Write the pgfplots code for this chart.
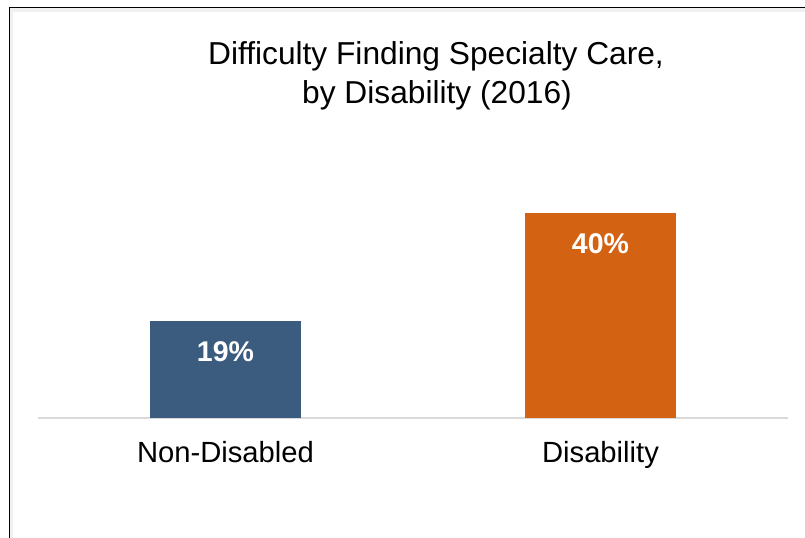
\documentclass[border=0pt]{standalone}
\usepackage{fontspec}
\setmainfont{Liberation Sans}
\usepackage{pgfplots}
\pgfplotsset{compat=1.18}
\definecolor{barblue}{HTML}{3B5B7F}
\definecolor{barorange}{HTML}{D46213}
\definecolor{axisgray}{HTML}{D9D9D9}
\begin{document}
\begin{tikzpicture}
\path[use as bounding box] (0,0) rectangle (805bp,-538bp);
\fill[gray!12] (10bp,-8bp) rectangle (805bp,-12bp);
\fill[gray!12] (10bp,-8bp) rectangle (13bp,-538bp);
\draw[line width=1.8bp, black] (9.5bp,-538bp) -- (9.5bp,-7.5bp) -- (805bp,-7.5bp);
\node[anchor=base, font=\fontsize{31.7bp}{38bp}\selectfont] at (436bp,-64bp) {Difficulty Finding Specialty Care,};
\node[anchor=base, font=\fontsize{31.7bp}{38bp}\selectfont] at (437bp,-103bp) {by Disability (2016)};
\begin{axis}[
  at={(38bp,-418bp)}, anchor=south west,
  scale only axis, width=750bp, height=205bp,
  xmin=-0.5, xmax=1.5, ymin=0, ymax=40,
  axis x line=bottom, axis y line=none,
  x axis line style={axisgray, line width=2bp, -},
  xtick={0,1}, xticklabels={Non-Disabled,Disability},
  major tick length=0pt, ytick=\empty,
  xticklabel style={anchor=base, yshift=-44bp, font=\fontsize{29.2bp}{34bp}\selectfont},
  ybar, bar width=151bp,
  clip=false,
  nodes near coords={\pgfmathprintnumber[assume math mode=true]{\pgfplotspointmeta}\%},
  every node near coord/.append style={anchor=base, yshift=-40.5bp, text=white, font=\bfseries\fontsize{28.5bp}{34bp}\selectfont},
]
\addplot[fill=barblue, draw=none, bar shift=0pt] coordinates {(0,19)};
\addplot[fill=barorange, draw=none, bar shift=0pt] coordinates {(1,40)};
\end{axis}
\end{tikzpicture}
\end{document}
